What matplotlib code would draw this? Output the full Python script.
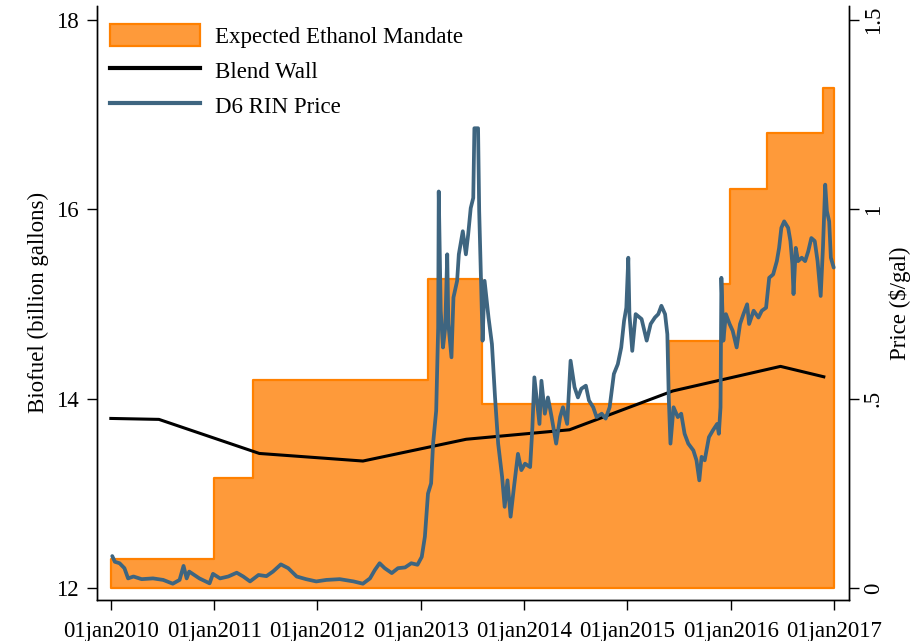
import pandas as pd
import matplotlib
matplotlib.use("Agg")
import matplotlib.pyplot as plt
from matplotlib.patches import Patch
from matplotlib.lines import Line2D

plt.rcParams['font.family'] = ['Liberation Serif', 'DejaVu Serif']

# Expected ethanol mandate (billion gallons), step changes
mandate_dates = ['2010-01-01', '2011-01-01', '2011-05-20', '2013-01-25', '2013-08-06',
                 '2015-05-29', '2015-11-30', '2015-12-31', '2016-05-10', '2016-11-23',
                 '2017-01-01']
mandate_vals = [12.30, 13.16, 14.20, 15.26, 13.94, 14.61, 15.21, 16.21, 16.81, 17.28, 17.28]

# Blend wall (billion gallons)
wall_dates = ['2010-01-01', '2010-06-20', '2011-06-10', '2012-06-10', '2013-06-10',
              '2014-06-10', '2015-06-10', '2016-06-25', '2016-11-25']
wall_vals = [13.79, 13.78, 13.42, 13.34, 13.57, 13.67, 14.08, 14.34, 14.23]

# D6 RIN price ($/gal)
rin_dates = [
    '2010-01-06', '2010-01-15', '2010-02-01', '2010-02-18', '2010-03-03', '2010-03-22',
    '2010-04-20', '2010-05-30', '2010-07-05', '2010-08-08', '2010-09-01', '2010-09-15',
    '2010-09-26', '2010-10-05', '2010-11-10', '2010-12-16', '2010-12-28', '2011-01-22',
    '2011-02-20', '2011-03-22', '2011-04-14', '2011-05-08', '2011-06-07', '2011-07-05',
    '2011-07-28', '2011-08-25', '2011-09-20', '2011-10-20', '2011-11-22', '2011-12-28',
    '2012-02-02', '2012-03-20', '2012-05-08', '2012-06-10', '2012-07-05', '2012-07-22',
    '2012-08-08', '2012-08-26', '2012-09-20', '2012-10-12', '2012-11-06', '2012-11-28',
    '2012-12-20', '2013-01-04', '2013-01-15', '2013-01-26', '2013-02-06', '2013-02-13',
    '2013-02-24', '2013-03-03', '2013-03-05', '2013-03-12', '2013-03-20', '2013-03-28',
    '2013-04-04', '2013-04-08', '2013-04-19', '2013-04-26', '2013-05-09', '2013-05-15',
    '2013-05-29', '2013-06-09', '2013-06-17', '2013-06-26', '2013-07-05', '2013-07-09',
    '2013-07-22', '2013-07-26', '2013-08-07', '2013-08-14', '2013-08-28', '2013-09-09',
    '2013-09-20', '2013-10-01', '2013-10-15', '2013-10-24', '2013-11-03', '2013-11-14',
    '2013-11-26', '2013-12-10', '2013-12-22', '2014-01-04', '2014-01-22', '2014-01-30',
    '2014-02-06', '2014-02-24', '2014-03-03', '2014-03-15', '2014-03-26', '2014-04-08',
    '2014-04-24', '2014-05-08', '2014-05-18', '2014-06-02', '2014-06-14', '2014-06-28',
    '2014-07-10', '2014-07-22', '2014-08-07', '2014-08-18', '2014-09-02', '2014-09-14',
    '2014-10-02', '2014-10-16', '2014-10-30', '2014-11-14', '2014-11-28', '2014-12-10',
    '2014-12-20', '2014-12-28', '2015-01-04', '2015-01-08', '2015-01-18', '2015-01-30',
    '2015-02-20', '2015-03-10', '2015-03-24', '2015-04-08', '2015-04-20', '2015-05-01',
    '2015-05-14', '2015-05-22', '2015-05-27', '2015-06-02', '2015-06-13', '2015-06-28',
    '2015-07-10', '2015-07-22', '2015-08-04', '2015-08-22', '2015-09-02', '2015-09-12',
    '2015-09-20', '2015-10-01', '2015-10-16', '2015-10-30', '2015-11-14', '2015-11-20',
    '2015-11-26', '2015-11-29', '2015-12-06', '2015-12-15', '2015-12-28', '2016-01-08',
    '2016-01-22', '2016-02-03', '2016-02-15', '2016-02-28', '2016-03-06', '2016-03-22',
    '2016-04-08', '2016-04-20', '2016-05-05', '2016-05-16', '2016-05-30', '2016-06-12',
    '2016-06-20', '2016-06-28', '2016-07-08', '2016-07-22', '2016-07-30', '2016-08-06',
    '2016-08-10', '2016-08-18', '2016-08-26', '2016-09-08', '2016-09-20', '2016-10-01',
    '2016-10-12', '2016-10-24', '2016-11-03', '2016-11-14', '2016-11-22', '2016-11-30',
    '2016-12-06', '2016-12-14', '2016-12-20', '2016-12-30']
rin_vals = [
    0.084, 0.069, 0.065, 0.052, 0.025, 0.030,
    0.023, 0.025, 0.021, 0.011, 0.021, 0.058,
    0.025, 0.043, 0.025, 0.012, 0.037, 0.025,
    0.030, 0.040, 0.030, 0.017, 0.034, 0.031,
    0.043, 0.062, 0.052, 0.030, 0.023, 0.017,
    0.021, 0.023, 0.017, 0.011, 0.025, 0.047,
    0.065, 0.052, 0.039, 0.052, 0.054, 0.065,
    0.061, 0.082, 0.135, 0.249, 0.276, 0.381,
    0.468, 0.688, 1.047, 0.732, 0.635, 0.688,
    0.881, 0.697, 0.609, 0.767, 0.811, 0.881,
    0.942, 0.881, 0.933, 1.003, 1.030, 1.214,
    1.214, 0.995, 0.653, 0.811, 0.714, 0.644,
    0.503, 0.381, 0.293, 0.214, 0.284, 0.188,
    0.267, 0.354, 0.311, 0.328, 0.319, 0.424,
    0.556, 0.433, 0.547, 0.460, 0.503, 0.451,
    0.381, 0.451, 0.477, 0.433, 0.600, 0.530,
    0.503, 0.526, 0.534, 0.495, 0.477, 0.451,
    0.460, 0.447, 0.477, 0.565, 0.591, 0.635,
    0.705, 0.740, 0.872, 0.723, 0.626, 0.723,
    0.710, 0.653, 0.697, 0.714, 0.723, 0.745,
    0.723, 0.670, 0.503, 0.381, 0.477, 0.451,
    0.460, 0.407, 0.381, 0.363, 0.337, 0.284,
    0.346, 0.337, 0.398, 0.416, 0.433, 0.407,
    0.477, 0.819, 0.653, 0.723, 0.697, 0.679,
    0.635, 0.697, 0.723, 0.749, 0.697, 0.732,
    0.714, 0.732, 0.740, 0.819, 0.828, 0.863,
    0.898, 0.951, 0.968, 0.951, 0.916, 0.854,
    0.776, 0.898, 0.863, 0.872, 0.863, 0.889,
    0.924, 0.916, 0.863, 0.771, 0.898, 1.065,
    0.995, 0.968, 0.872, 0.846]

xtick_dates = ['2010-01-01', '2011-01-01', '2012-01-01', '2013-01-01', '2014-01-01',
               '2015-01-01', '2016-01-01', '2017-01-01']
xtick_labels = ['01jan2010', '01jan2011', '01jan2012', '01jan2013', '01jan2014',
                '01jan2015', '01jan2016', '01jan2017']
left_ticks = [12, 14, 16, 18]
right_ticks = [0, 0.5, 1, 1.5]
right_labels = ['0', '.5', '1', '1.5']

fill_col = '#FE9A3A'
edge_col = '#FF8000'
rin_col = '#3E6580'
fs = 16.5

fig = plt.figure(figsize=(9.2, 6.41), dpi=100)
ax = fig.add_axes([0.1054, 0.064, 0.8174, 0.927])

ax.fill_between(pd.to_datetime(mandate_dates), 12, mandate_vals, step='post',
                facecolor=fill_col, edgecolor=edge_col, linewidth=1.6, zorder=1)
ax.plot(pd.to_datetime(wall_dates), wall_vals, color='black', linewidth=2.2, zorder=2)

ax.set_ylim(11.872, 18.15)
ax.set_xlim(pd.Timestamp('2009-11-13'), pd.Timestamp('2017-02-22'))
ax.set_yticks(left_ticks)
ax.set_yticklabels([str(t) for t in left_ticks])
ax.set_xticks(pd.to_datetime(xtick_dates))
ax.set_xticklabels(xtick_labels)
ax.set_ylabel('Biofuel (billion gallons)', fontsize=fs, labelpad=5)

ax2 = ax.twinx()
ax2.plot(pd.to_datetime(rin_dates), rin_vals, color=rin_col, linewidth=2.7,
         solid_joinstyle='round', solid_capstyle='round')
ax2.set_ylim((11.872 - 12) / 4, (18.15 - 12) / 4)
ax2.set_yticks(right_ticks)
ax2.set_yticklabels(right_labels, rotation=90, va='center')
ax2.set_ylabel('Price ($/gal)', fontsize=fs, labelpad=4)

for a in (ax, ax2):
    a.spines['top'].set_visible(False)
    for s in a.spines.values():
        s.set_linewidth(1.0)
    a.tick_params(axis='both', direction='out', length=7, width=1.0, labelsize=fs, pad=6)
ax.tick_params(axis='x', pad=8)
ax2.tick_params(axis='y', pad=3)

handles = [Patch(facecolor=fill_col, edgecolor=edge_col, linewidth=1.6),
           Line2D([], [], color='black', linewidth=3),
           Line2D([], [], color=rin_col, linewidth=3)]
labels = ['Expected Ethanol Mandate', 'Blend Wall', 'D6 RIN Price']
leg = ax2.legend(handles, labels, loc='upper left', bbox_to_anchor=(0.12, 0.962),
                 bbox_transform=fig.transFigure, frameon=False, fontsize=fs,
                 handlelength=3.9, handleheight=1.05, handletextpad=0.68,
                 labelspacing=0.5, borderpad=0, borderaxespad=0)

fig.savefig('out.png', dpi=100)
